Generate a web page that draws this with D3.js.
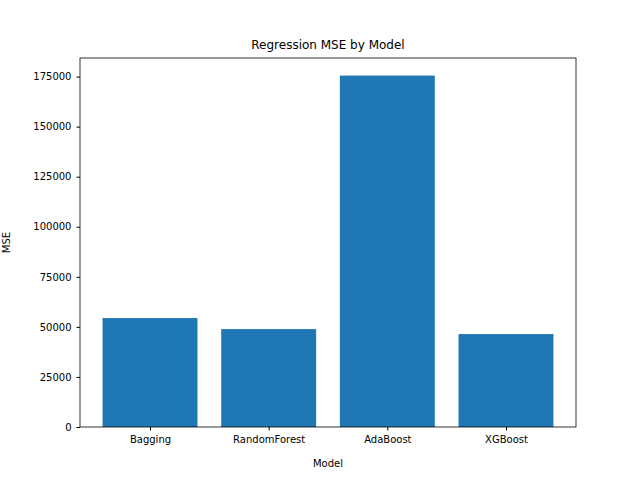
<!DOCTYPE html>
<html>
<head>
<meta charset="utf-8">
<script src="https://cdn.jsdelivr.net/npm/d3@7"></script>
<style>
  body { margin: 0; background: #fff; }
  text { font-family: "DejaVu Sans", sans-serif; }
</style>
</head>
<body>
<svg id="chart" width="640" height="480"></svg>
<script>
const models = ["Bagging", "RandomForest", "AdaBoost", "XGBoost"];
const mse = [54400, 48900, 175500, 46400];
const yTicks = [0, 25000, 50000, 75000, 100000, 125000, 150000, 175000];

const margin = { top: 58, right: 64, bottom: 53, left: 80 };
const width = 640 - margin.left - margin.right;
const height = 480 - margin.top - margin.bottom;

const svg = d3.select("#chart");
const g = svg.append("g")
    .attr("transform", "translate(" + margin.left + "," + margin.top + ")");

// matplotlib-style linear x with 5% margins around bars of width 0.8
const x = d3.scaleLinear().domain([-0.59, 3.59]).range([0, width]);
const y = d3.scaleLinear().domain([0, d3.max(mse) * 1.05]).range([height, 0]);

g.selectAll(".bar")
    .data(models)
    .enter().append("rect")
    .attr("class", "bar")
    .attr("x", (d, i) => x(i - 0.4))
    .attr("width", x(0.4) - x(-0.4))
    .attr("y", (d, i) => y(mse[i]))
    .attr("height", (d, i) => height - y(mse[i]))
    .attr("fill", "#1f77b4");

const xAxis = g.append("g")
    .attr("transform", "translate(0," + height + ")")
    .call(d3.axisBottom(x).tickValues(d3.range(models.length))
        .tickFormat(i => models[i]).tickSizeOuter(0).tickSize(3.5).tickPadding(5));

const yAxis = g.append("g")
    .call(d3.axisLeft(y).tickValues(yTicks).tickFormat(d3.format("d"))
        .tickSizeOuter(0).tickSize(3.5).tickPadding(5));

[xAxis, yAxis].forEach(a => {
    a.selectAll("text").attr("font-size", 10).attr("fill", "#000")
        .style("font-family", "DejaVu Sans");
    a.select(".domain").remove();
});

g.append("rect")
    .attr("width", width).attr("height", height)
    .attr("fill", "none").attr("stroke", "#000").attr("stroke-width", 0.8);

svg.append("text")
    .attr("x", margin.left + width / 2).attr("y", margin.top - 9)
    .attr("text-anchor", "middle").attr("font-size", 12)
    .text("Regression MSE by Model");

svg.append("text")
    .attr("x", margin.left + width / 2).attr("y", 467)
    .attr("text-anchor", "middle").attr("font-size", 10)
    .text("Model");

svg.append("text")
    .attr("transform", "translate(10," + (margin.top + height / 2) + ") rotate(-90)")
    .attr("text-anchor", "middle").attr("font-size", 10)
    .text("MSE");
</script>
</body>
</html>
